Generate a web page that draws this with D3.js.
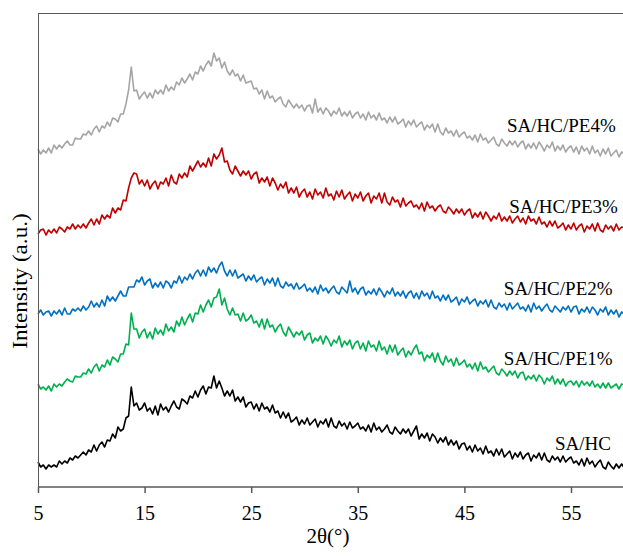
<!DOCTYPE html>
<html>
<head>
<meta charset="utf-8">
<script src="https://cdn.jsdelivr.net/npm/d3@7"></script>
<style>
  body { margin: 0; background: #fff; }
  text { font-family: "Liberation Serif", "Times New Roman", serif; fill: #000; }
</style>
</head>
<body>
<svg width="623" height="556"></svg>
<script>
// scan grid: 2theta from 5 deg, one reading every 0.25 deg
var startAngle = 5,
  stepAngle = 0.25;
var tickValues = [5, 15, 25, 35, 45, 55];

var seriesNames = ["SA/HC", "SA/HC/PE1%", "SA/HC/PE2%", "SA/HC/PE3%", "SA/HC/PE4%"];
var seriesColors = ["#000000", "#00b050", "#0070c0", "#c00000", "#a5a5a5"];

// intensities (a.u., curves already offset)
var saHc = [
  25,20,22,18,22,20,22,20,26,23,26,24,29,27,31,29,32,35,32,37,
  35,42,36,42,45,40,47,46,53,49,60,56,58,69,71,100,81,84,77,79,
  84,76,79,73,81,72,83,77,80,75,81,86,80,78,88,86,83,91,89,96,
  90,97,101,93,100,99,111,99,106,99,91,96,91,97,86,90,85,90,80,84,
  85,78,83,76,84,78,80,75,82,74,76,69,75,69,74,65,67,70,62,67,
  63,69,62,65,68,60,66,63,68,60,69,61,59,66,61,64,58,65,59,61,
  64,58,60,56,62,55,64,57,60,55,58,62,55,53,60,56,53,58,54,58,
  51,56,61,48,53,49,54,46,53,50,44,49,45,50,42,47,42,46,38,43,
  44,37,41,35,42,36,39,33,41,34,36,31,38,32,38,30,33,36,28,34,
  30,35,28,32,34,26,32,29,34,27,34,27,25,31,27,30,25,31,25,28,
  30,24,26,22,28,21,29,23,26,20,24,27,20,18,25,21,18,23,19,23,
  19
];

var pe1 = [
  103,98,100,97,101,96,103,100,103,101,105,108,106,105,111,110,110,114,113,118,
  114,120,123,116,122,120,127,122,130,128,125,133,133,143,142,174,158,158,149,155,
  158,149,155,148,159,153,157,152,163,156,160,155,166,161,170,162,168,173,165,174,
  173,182,175,182,187,180,189,190,198,182,189,178,172,179,172,173,166,174,166,168,
  172,164,166,160,168,158,168,160,162,155,160,163,155,151,160,155,150,155,152,156,
  147,152,154,144,149,146,151,143,151,147,141,147,144,151,140,146,142,147,138,144,
  146,138,144,136,146,140,142,136,146,137,140,133,142,135,142,132,136,139,130,136,
  132,138,142,133,135,126,132,129,134,125,134,126,122,131,125,128,121,129,122,124,
  127,120,123,118,124,116,125,118,120,115,118,121,114,112,118,115,111,116,112,116,
  109,114,115,107,111,108,112,106,112,109,103,109,106,111,103,108,103,108,101,105,
  106,102,106,100,106,102,105,101,106,100,103,99,104,99,104,99,101,103,98,103,
  102
];

var pe2 = [
  173,177,172,175,176,171,176,173,177,172,179,173,173,178,176,179,176,181,177,180,
  186,180,184,180,187,181,191,186,190,186,191,196,191,191,200,200,200,207,205,210,
  202,206,208,199,204,200,205,199,206,204,199,206,204,211,204,210,207,213,208,214,
  217,211,217,211,220,215,219,214,221,225,216,211,217,211,217,209,211,213,206,211,
  207,212,205,208,210,202,208,204,209,201,209,201,199,205,201,203,198,204,198,200,
  203,196,199,195,200,193,202,196,199,194,198,201,195,193,200,197,194,206,195,199,
  193,198,200,192,196,193,198,192,199,195,190,196,193,199,191,195,191,196,189,194,
  196,189,194,188,196,191,194,188,196,189,191,186,192,187,192,185,187,190,182,188,
  185,190,183,186,188,181,186,183,187,180,187,180,178,184,180,183,177,184,178,181,
  184,178,180,176,182,175,184,178,181,176,180,183,177,175,181,178,175,180,177,181,
  175,180,181,173,178,175,180,174,180,177,172,178,175,180,172,177,173,177,170,175,
  173
];

var pe3 = [
  253,257,258,252,257,254,258,254,260,258,255,260,258,263,258,262,259,263,259,264,
  268,262,268,263,272,268,272,269,279,274,279,277,287,286,299,309,314,313,303,307,
  301,307,298,303,306,298,305,303,309,301,312,305,303,313,309,314,310,321,316,321,
  326,320,324,320,329,321,333,328,332,339,325,326,317,313,321,316,311,316,312,316,
  308,313,315,304,309,305,310,301,309,304,297,303,299,305,294,299,294,300,290,295,
  298,290,295,288,298,292,295,289,299,291,293,287,296,290,297,288,292,295,286,293,
  289,295,286,291,294,284,291,288,294,284,294,285,282,290,285,287,280,289,281,284,
  286,280,282,278,284,276,285,279,281,276,280,282,276,274,280,277,273,278,274,278,
  272,276,278,269,274,270,275,268,275,271,266,271,268,274,266,270,266,271,264,268,
  271,265,269,263,271,266,268,263,270,263,265,260,266,261,266,259,261,264,257,262,
  258,264,257,261,263,255,261,258,263,256,264,257,255,262,258,261,256,263,257,260,
  259
];

var pe4 = [
  338,333,337,334,339,334,342,338,342,339,343,346,342,342,349,348,348,353,352,356,
  352,358,361,355,361,359,365,361,369,368,365,373,373,383,397,420,396,397,388,392,
  395,389,394,389,397,393,397,393,402,396,400,397,405,402,409,404,408,413,407,415,
  413,421,416,422,426,421,434,426,429,419,425,416,412,417,411,413,406,412,404,405,
  406,398,399,393,397,388,396,389,391,385,388,390,383,380,387,383,379,383,379,382,
  376,381,382,374,388,375,379,373,379,376,371,376,373,379,371,375,371,376,369,373,
  375,369,373,367,375,369,372,367,374,367,369,364,370,365,370,363,365,368,360,366,
  362,367,360,363,365,357,362,359,363,355,363,355,352,359,354,356,351,357,350,353,
  355,349,351,347,352,345,353,347,349,344,347,350,343,341,348,344,341,346,342,346,
  340,344,346,338,343,339,344,338,345,341,336,342,339,345,336,341,337,342,335,339,
  341,335,340,333,341,336,339,333,341,334,337,331,338,333,339,331,334,337,330,335,
  333
];

var seriesValues = [saHc, pe1, pe2, pe3, pe4];

// label spot for each curve (2theta, intensity)
var labelAt = [[53.5, 37], [48.7, 122], [48.7, 192], [49.2, 274], [49.0, 355]];

var svg = d3.select("svg"),
  plotLeft = 38,
  plotTop = 13,
  plotBottom = 487,
  plotRight = 623;

var xScale = d3.scaleLinear().domain([5, 60]).range([plotLeft, 624.3]);
var yScale = d3.scaleLinear().domain([0, 474]).range([plotBottom, plotTop]);

var line = d3
  .line()
  .x(function (d) {
    return xScale(d[0]);
  })
  .y(function (d) {
    return yScale(d[1]);
  });

var plot = svg.append("g").attr("class", "curves");

seriesValues.forEach(function (vals, k) {
  var pts = vals.map(function (v, i) {
    return [startAngle + i * stepAngle, v];
  });
  plot
    .append("path")
    .datum(pts)
    .attr("fill", "none")
    .attr("stroke", seriesColors[k])
    .attr("stroke-width", 1.6)
    .attr("stroke-linejoin", "round")
    .attr("d", line);
});

// frame: top line + left axis
svg
  .append("line")
  .attr("x1", plotLeft)
  .attr("x2", plotRight)
  .attr("y1", plotTop + 0.5)
  .attr("y2", plotTop + 0.5)
  .attr("stroke", "#595959");

svg
  .append("line")
  .attr("x1", plotLeft + 0.5)
  .attr("x2", plotLeft + 0.5)
  .attr("y1", plotTop)
  .attr("y2", plotBottom)
  .attr("stroke", "#595959");

// x axis
var xAxis = svg
  .append("g")
  .attr("class", "xaxis")
  .attr("transform", "translate(0," + plotBottom + ")")
  .call(d3.axisBottom(xScale).tickValues(tickValues).tickSize(6).tickPadding(13));

xAxis
  .select(".domain")
  .attr("stroke", "#595959")
  .attr("stroke-width", 1.5)
  .attr("d", "M" + plotLeft + ",0H" + plotRight);
xAxis.selectAll(".tick line").attr("stroke", "#595959").attr("stroke-width", 1.5);
xAxis
  .selectAll(".tick text")
  .attr("font-family", "Liberation Serif, Times New Roman, serif")
  .attr("font-size", "20px")
  .attr("fill", "#000");

svg
  .append("text")
  .attr("x", 328)
  .attr("y", 543)
  .attr("text-anchor", "middle")
  .attr("font-size", "21px")
  .text("2θ(°)");

svg
  .append("text")
  .attr("transform", "translate(27,281) scale(1,1.1) rotate(-90)")
  .attr("text-anchor", "middle")
  .attr("font-size", "21px")
  .text("Intensity (a.u.)");

// curve labels
svg
  .selectAll(".curvelabel")
  .data(seriesNames)
  .enter()
  .append("text")
  .attr("class", "curvelabel")
  .attr("x", function (d, i) {
    return xScale(labelAt[i][0]);
  })
  .attr("y", function (d, i) {
    return yScale(labelAt[i][1]);
  })
  .attr("font-size", "19px")
  .text(function (d) {
    return d;
  });
</script>
</body>
</html>
